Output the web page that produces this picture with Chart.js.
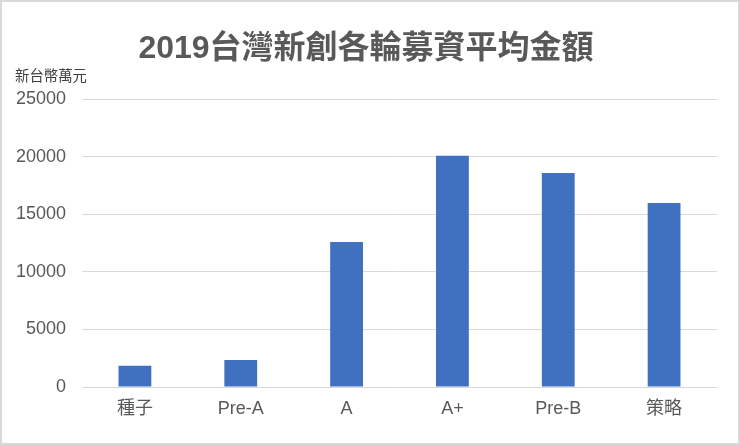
<!DOCTYPE html>
<html>
<head>
<meta charset="utf-8">
<script src="https://cdn.jsdelivr.net/npm/chart.js@4/dist/chart.umd.min.js"></script>
<style>
  html, body { margin: 0; padding: 0; background: #fff; }
  #wrap {
    width: 740px; height: 445px; box-sizing: border-box;
    border: 2px solid #d9d9d9; background: #fff;
  }
</style>
</head>
<body>
<div id="wrap"><canvas id="chartBar" width="736" height="441"></canvas></div>
<script>
const categories = ["種子", "Pre-A", "A", "A+", "Pre-B", "策略"];
const avgAmount = [1850, 2350, 12600, 20100, 18600, 16000];
const yTicks = [0, 5000, 10000, 15000, 20000, 25000];

const fontFamily = '"Liberation Sans", Arial, "Noto Sans CJK TC", sans-serif';

const data = {
  labels: categories,
  datasets: [
    {
      label: "平均金額",
      data: avgAmount,
      backgroundColor: "#4070c0",
      borderWidth: 0,
      barPercentage: 0.31,
      categoryPercentage: 1.0
    }
  ]
};

const options = {
  responsive: false,
  animation: false,
  maintainAspectRatio: false,
  layout: {
    padding: { left: 13, right: 21, top: 0, bottom: 23 }
  },
  scales: {
    x: {
      grid: { display: false, drawTicks: false },
      border: { display: false },
      afterFit: (axis) => { axis.height = 33; },
      ticks: {
        padding: 11,
        color: "#595959",
        font: { family: fontFamily, size: 18 }
      }
    },
    y: {
      min: 0,
      max: 25000,
      afterBuildTicks: (axis) => {
        axis.ticks = yTicks.map(v => ({ value: v }));
      },
      afterFit: (axis) => { axis.width = 67; },
      grid: { color: "#d9d9d9", lineWidth: 1, drawTicks: false },
      border: { display: false },
      ticks: {
        padding: 16,
        color: "#595959",
        font: { family: fontFamily, size: 18 },
        callback: (value) => String(value)
      }
    }
  },
  plugins: {
    legend: { display: false },
    tooltip: { enabled: false },
    title: {
      display: true,
      text: "2019台灣新創各輪募資平均金額",
      color: "#595959",
      font: { family: fontFamily, size: 32, weight: "bold", lineHeight: 1.1 },
      padding: { top: 30, bottom: 1 }
    },
    subtitle: {
      display: true,
      text: "新台幣萬元",
      align: "start",
      color: "#404040",
      font: { family: fontFamily, size: 14.4 },
      padding: { top: 0, bottom: 14 }
    }
  }
};

const barChart = new Chart(document.getElementById("chartBar"), {
  type: "bar",
  data,
  options
});
</script>
</body>
</html>
